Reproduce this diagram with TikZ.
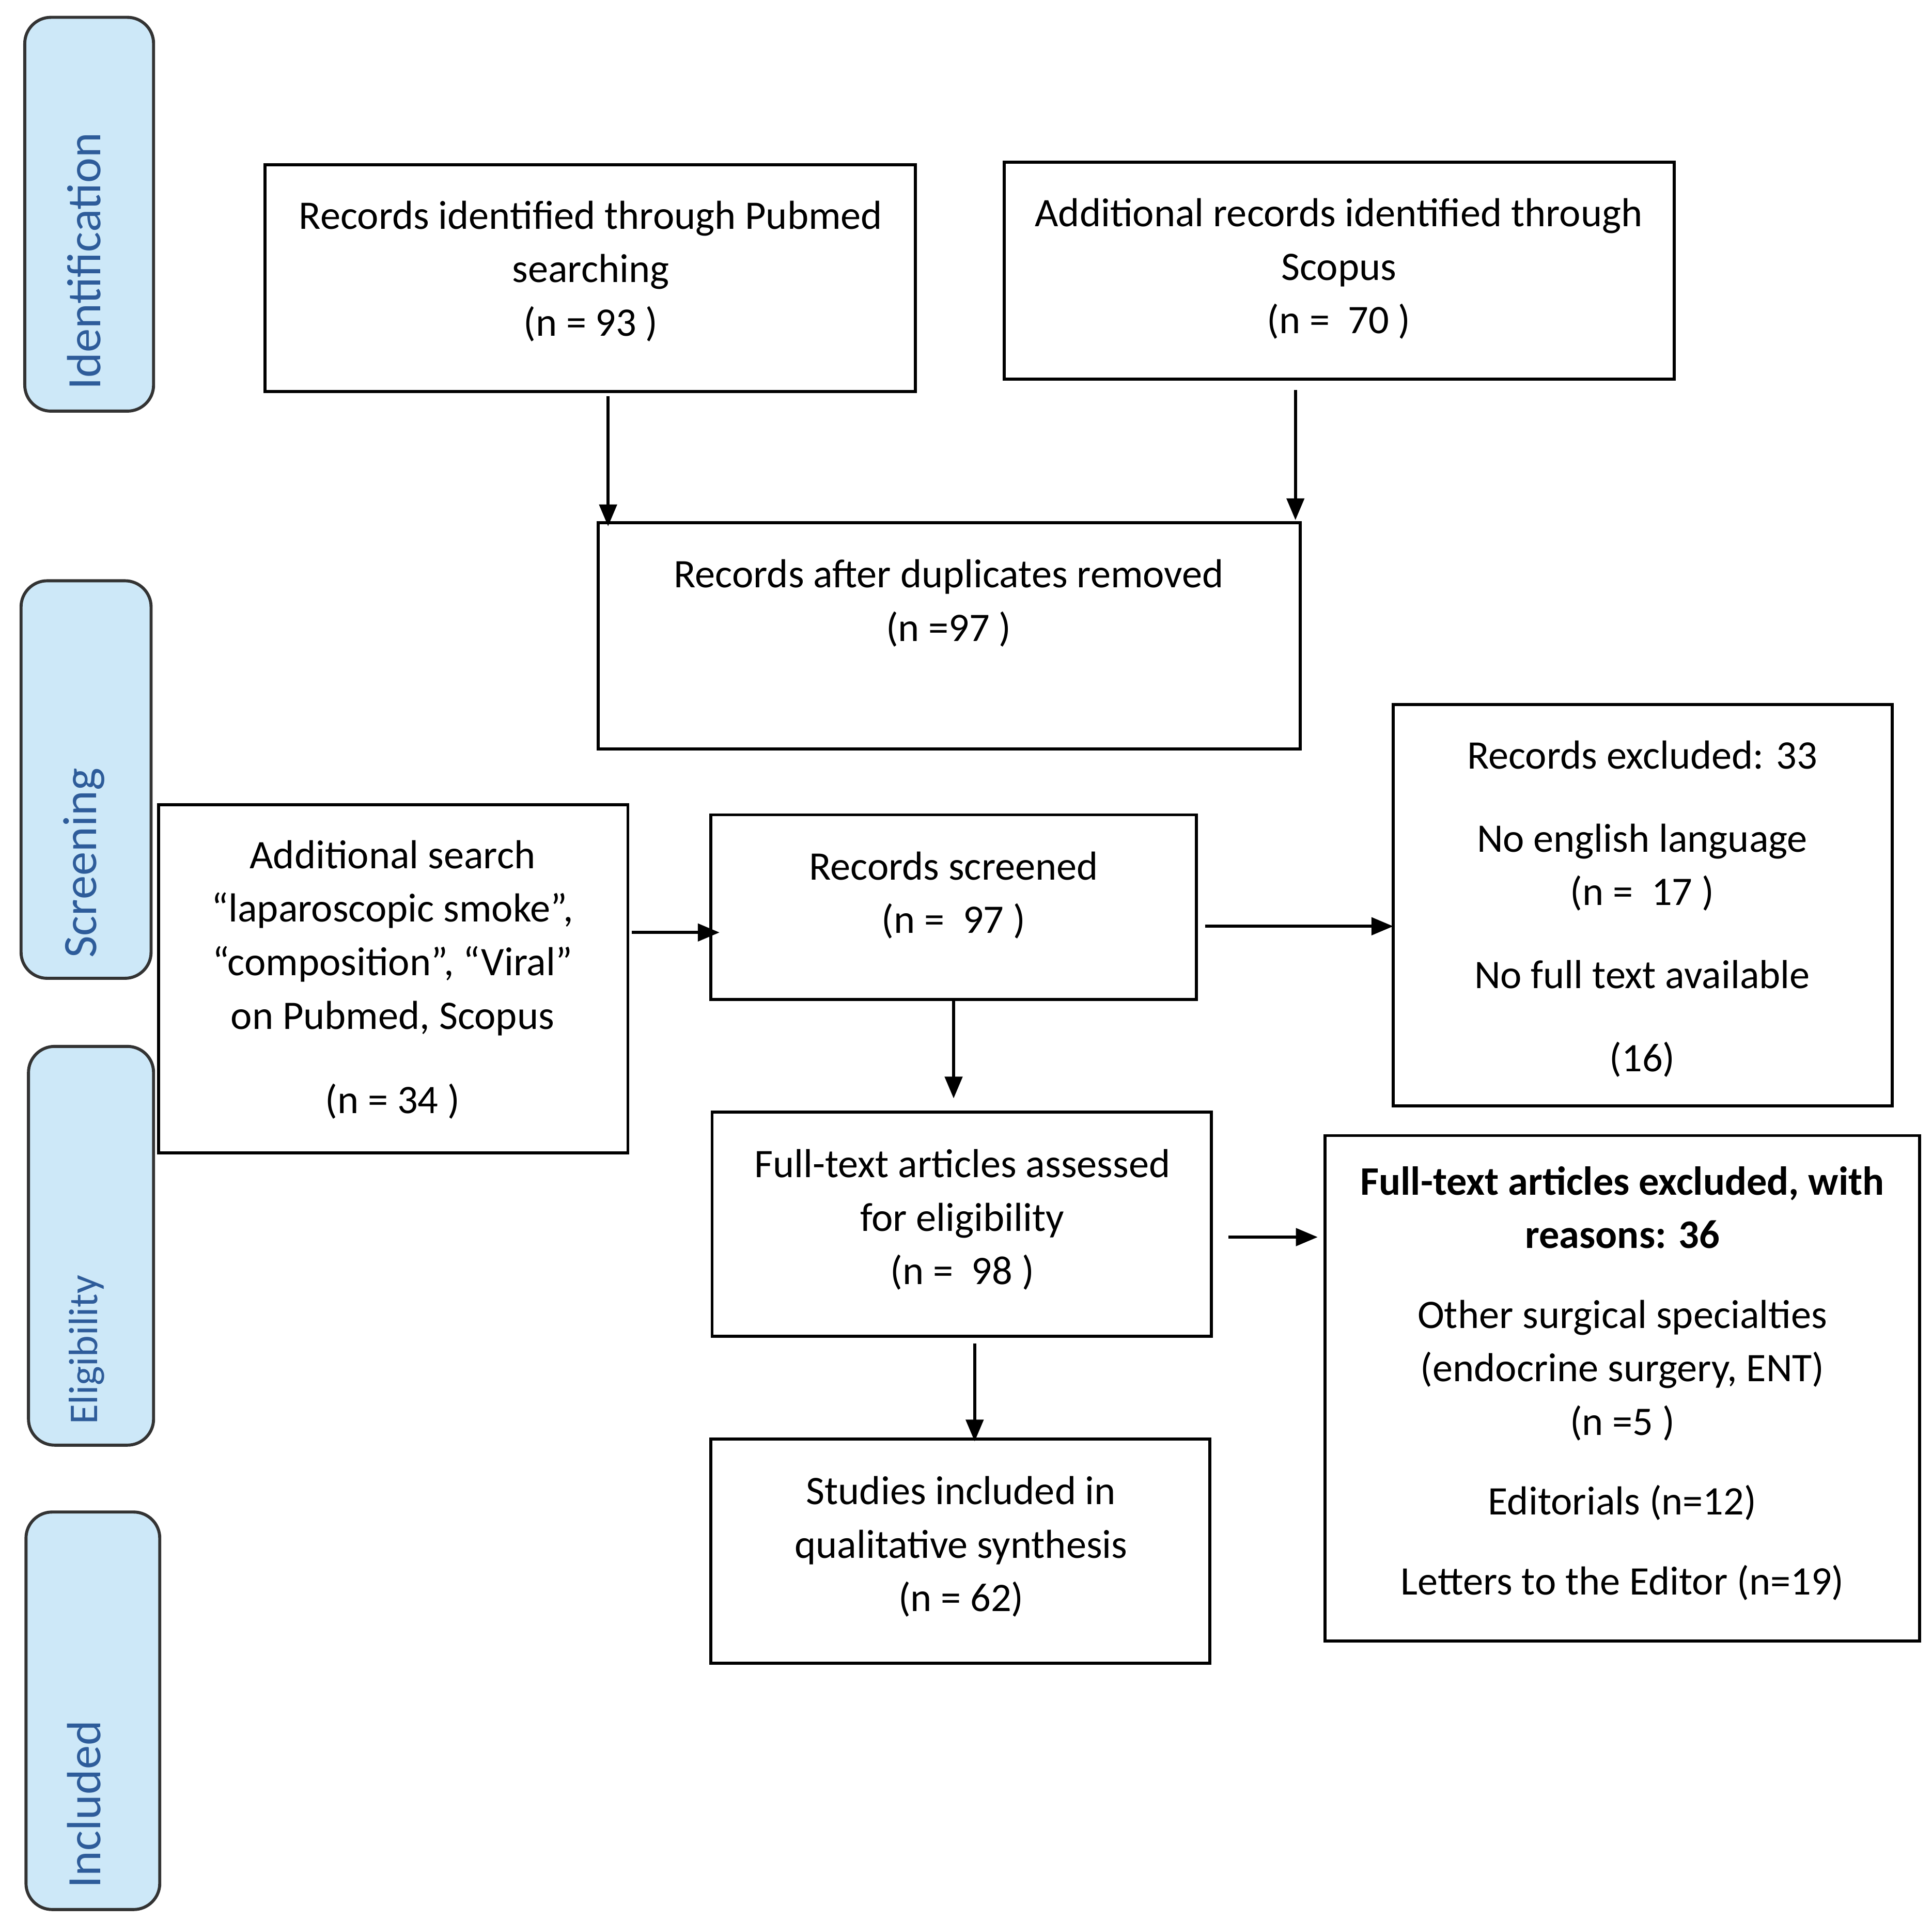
\documentclass[tikz,border=0pt]{standalone}
\usepackage{fontspec}
\setmainfont{Carlito}
\usetikzlibrary{arrows.meta}
\definecolor{sidefill}{HTML}{CDE8F8}
\definecolor{sidetext}{HTML}{2E5C9A}
\begin{document}
\begin{tikzpicture}[x=0.01cm,y=-0.01cm,
  bx/.style={line width=0.7pt},
  txt/.style={align=center,font=\fontsize{9.3}{12.3}\selectfont,inner sep=0pt},
  side/.style={draw=black!80,line width=0.7pt,fill=sidefill,rounded corners=6pt},
  sidetxt/.style={rotate=90,text=sidetext,font=\fontsize{11}{13}\selectfont,inner sep=0pt},
  arr/.style={-{Triangle[length=5pt,width=4pt]},line width=0.7pt}]
\useasboundingbox (0,0) rectangle (1560,1552);
% side bars
\draw[side] (20,14) rectangle (124,332);
\draw[side] (17,469) rectangle (122,790);
\draw[side] (23,845) rectangle (124,1167);
\draw[side] (21,1221) rectangle (129,1542);
\node[sidetxt] (sI) at (68,211) {Identification};
\node[sidetxt] (sS) at (68,697) {Screening};
\node[sidetxt,font=\fontsize{9.4}{11}\selectfont] (sE) at (70,1090) {Eligibility};
\node[sidetxt] (sN) at (68,1457) {Included};
% boxes
\draw[bx] (214,133) rectangle (739,316);
\draw[bx] (811,131) rectangle (1352,306);
\draw[bx] (483,422) rectangle (1050,605);
\draw[bx] (128,650) rectangle (507,931);
\draw[bx] (574,658) rectangle (966,807);
\draw[bx] (1125,569) rectangle (1528,893);
\draw[bx] (575,898) rectangle (978,1079);
\draw[bx] (1070,917) rectangle (1550,1325);
\draw[bx] (574,1162) rectangle (977,1343);
% texts
\node[txt] (pub) at (477,219) {Records identified through Pubmed\\searching\\(n = 93 )};
\node[txt] (sco) at (1081,217) {Additional records identified through\\Scopus\\(n =\ \ 70 )};
\node[txt] (dup) at (766,487) {Records after duplicates removed\\(n =97 )};
\node[txt] (add) at (317,791) {Additional search\\“laparoscopic smoke”,\\“composition”, “Viral”\\on Pubmed, Scopus\\[7pt](n = 34 )};
\node[txt] (exc) at (1326,734) {Records excluded: 33\\[6.8pt]No english language\\(n =\ \ 17 )\\[6.8pt]No full text available\\[6.8pt](16)};
\node[txt] (scr) at (770,723) {Records screened\\(n =\ \ 97 )};
\node[txt] (ful) at (777,985) {Full-text articles assessed\\for eligibility\\(n =\ \ 98 )};
\node[txt] (ex2) at (1310,1117) {\textbf{Full-text articles excluded, with}\\\textbf{reasons: 36}\\[6pt]Other surgical specialties\\(endocrine surgery, ENT)\\(n =5 )\\[6pt]Editorials (n=12)\\[6pt]Letters to the Editor (n=19)};
\node[txt] (inc) at (776,1249) {Studies included in\\qualitative synthesis\\(n = 62)};
% arrows
\coordinate (a1) at (491,320); \coordinate (b1) at (491,425);
\coordinate (a2) at (1046,315); \coordinate (b2) at (1046,420);
\coordinate (a3) at (510,753); \coordinate (b3) at (581,753);
\coordinate (a4) at (973,748); \coordinate (b4) at (1125,748);
\coordinate (a5) at (770,808); \coordinate (b5) at (770,887);
\coordinate (a6) at (992,999); \coordinate (b6) at (1064,999);
\coordinate (a7) at (787,1085); \coordinate (b7) at (787,1164);
\foreach \i in {1,...,7}{\draw[arr] (a\i) -- (b\i);}
\end{tikzpicture}
\end{document}
